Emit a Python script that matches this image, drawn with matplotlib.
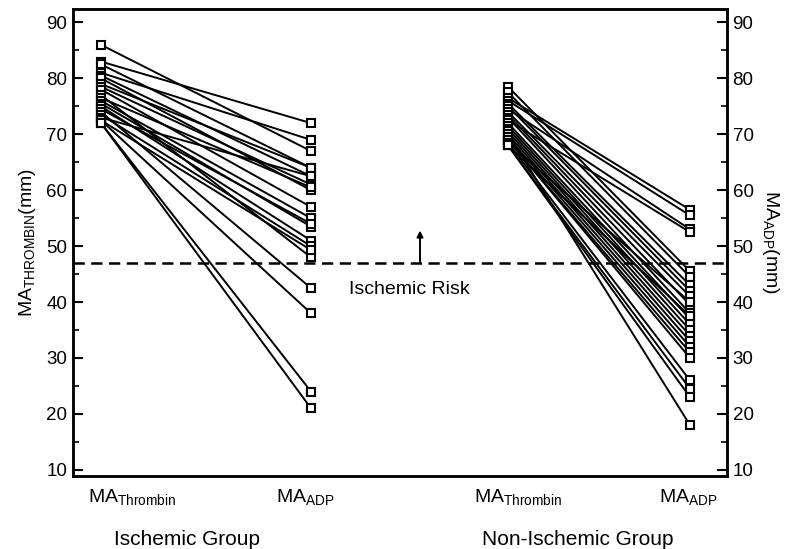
"""Paired MA thrombin / MA ADP values, ischemic vs non-ischemic group."""
import numpy as np
import matplotlib
matplotlib.use('Agg')
import matplotlib.pyplot as plt
from matplotlib.ticker import MultipleLocator

plt.rcParams['font.family'] = ['Liberation Sans', 'DejaVu Sans']
plt.rcParams['mathtext.fontset'] = 'custom'
plt.rcParams['mathtext.rm'] = 'Liberation Sans'
plt.rcParams['mathtext.it'] = 'Liberation Sans:italic'
plt.rcParams['mathtext.bf'] = 'Liberation Sans:bold'

# --- data (mm) ---
thrombin_isch = [86, 83, 82.5, 81, 80.5, 80, 79, 78.5, 78, 77, 76.5, 76,
                 75.5, 75, 74.5, 74, 73.5, 73, 72.5, 72.5, 72, 72]
adp_isch = [67, 72, 64, 69, 62.5, 60, 64, 61, 57, 48, 60.5, 55,
            53.5, 51, 54, 42.5, 50, 62.5, 38, 49.3, 24, 21]

thrombin_non = [78.5, 77.5, 76.5, 76, 75.5, 75, 74.5, 74, 73.5, 73, 72.5, 72,
                71.5, 71, 70.5, 70, 70, 69.5, 69, 69, 68.5, 68.5, 68, 68, 68]
adp_non = [45.5, 44.5, 56.5, 55.5, 43, 42, 53, 41, 39.5, 38, 52.5, 37,
           36, 35, 34, 33, 18, 32, 31, 30, 26, 40, 24.5, 23, 37.5]

risk_cutoff = 47
group_names = ['Ischemic Group', 'Non-Ischemic Group']

# x positions of the four columns (axis runs 73..727)
X_POS = [101, 311, 508, 690]

fig = plt.figure(figsize=(7.88, 5.49), dpi=100)
ax = fig.add_axes([73 / 788, 1 - 476 / 549, 654 / 788, (476 - 9) / 549])
ax.set_xlim(73, 727)
ax.set_ylim(8.9, 92.4)

def draw_pairs(x0, x1, before, after):
    for a, b in zip(before, after):
        ax.plot([x0, x1], [a, b], color='black', lw=1.4, zorder=2,
                marker='s', ms=5.5, mfc='white', mec='black', mew=1.5)

draw_pairs(X_POS[0], X_POS[1], thrombin_isch, adp_isch)
draw_pairs(X_POS[2], X_POS[3], thrombin_non, adp_non)

# ischemic risk cut-off
ax.axhline(risk_cutoff, color='black', lw=1.8, ls=(0, (4.5, 2.6)), zorder=1)
ax.annotate('', xy=(420, 52.8), xytext=(420, risk_cutoff),
            arrowprops=dict(arrowstyle='-|>', color='black', lw=1.4,
                            mutation_scale=9, shrinkA=0, shrinkB=0))
ax.text(409, 42.2, 'Ischemic Risk', ha='center', va='center', fontsize=14)

# axes styling
for side in ['left', 'right', 'bottom', 'top']:
    ax.spines[side].set_linewidth(1.8)
ax.set_xticks([])
ax.yaxis.set_major_locator(MultipleLocator(10))
ax.yaxis.set_minor_locator(MultipleLocator(5))
ax.set_yticks(np.arange(10, 91, 10))
ax.tick_params(axis='y', which='major', direction='in', length=7, width=1.5,
               labelsize=13.5, pad=4, left=True, right=False)
ax.tick_params(axis='y', which='minor', direction='in', length=4, width=1.2,
               right=False)

ax2 = ax.twinx()
ax2.set_ylim(ax.get_ylim())
ax2.yaxis.set_major_locator(MultipleLocator(10))
ax2.yaxis.set_minor_locator(MultipleLocator(5))
ax2.set_yticks(np.arange(10, 91, 10))
ax2.tick_params(axis='y', which='major', direction='in', length=7, width=1.5,
                labelsize=13.5, pad=4)
ax2.tick_params(axis='y', which='minor', direction='in', length=4, width=1.2)
for side in ['left', 'right', 'bottom', 'top']:
    ax2.spines[side].set_linewidth(1.8)

ax.set_ylabel(r'MA$_{\mathrm{THROMBIN}}$(mm)', fontsize=14, labelpad=6)
ax2.set_ylabel(r'MA$_{\mathrm{ADP}}$(mm)', fontsize=14, rotation=270,
               labelpad=20)

# column and group labels below the axis
trans = ax.get_xaxis_transform()
col_labels = [r'MA$_{\mathrm{Thrombin}}$', r'MA$_{\mathrm{ADP}}$',
              r'MA$_{\mathrm{Thrombin}}$', r'MA$_{\mathrm{ADP}}$']
col_x = [132, 305, 518, 688]
for x, lab in zip(col_x, col_labels):
    ax.text(x, -0.045, lab, transform=trans, ha='center', va='center',
            fontsize=14)
for x, lab in zip([187, 578], group_names):
    ax.text(x, -0.135, lab, transform=trans, ha='center', va='center',
            fontsize=15)

plt.savefig('out.png', dpi=100)
